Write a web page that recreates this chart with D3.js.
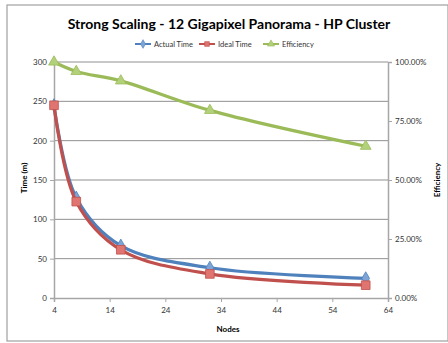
<!DOCTYPE html>
<html>
<head>
<meta charset="utf-8">
<script src="https://cdn.jsdelivr.net/npm/d3@7"></script>
<style>
  body { margin: 0; background: #fff; }
  svg { display: block; font-family: Lato, "Liberation Sans", sans-serif; }
</style>
</head>
<body>
<div id="chart"></div>
<script>
const width = 448, height = 343;

// data
const nodes = [4, 8, 16, 32, 60];
const actualTime = [245, 127.5, 66.5, 38.5, 25];
const idealTime = [245, 122.5, 61.3, 30.6, 16.3];
const efficiency = [1.0, 0.96, 0.92, 0.795, 0.643];

const xTicks = [4, 14, 24, 34, 44, 54, 64];
const yTicks = [0, 50, 100, 150, 200, 250, 300];
const y2Ticks = [0, 0.25, 0.5, 0.75, 1.0];

const svg = d3.select("#chart").append("svg")
    .attr("width", width)
    .attr("height", height);

// chart border
svg.append("rect")
    .attr("x", 7).attr("y", 5)
    .attr("width", width - 7).attr("height", 336)
    .attr("fill", "#fff")
    .attr("stroke", "#a0a0a0")
    .attr("stroke-width", 1.2);

const x = d3.scaleLinear().domain([4, 64]).range([54, 388]);
const y = d3.scaleLinear().domain([0, 300]).range([298, 62]);
const y2 = d3.scaleLinear().domain([0, 1]).range([298, 62]);

// gridlines
svg.append("g")
  .selectAll("line")
  .data(yTicks.filter(d => d > 0))
  .join("line")
    .attr("x1", x(4)).attr("x2", x(64))
    .attr("y1", d => y(d)).attr("y2", d => y(d))
    .attr("stroke", "#909090")
    .attr("stroke-width", 1);

// axes
const axisColor = "#a6a6a6";
const xAxis = svg.append("g")
    .attr("transform", `translate(0,${y(0)})`)
    .call(d3.axisBottom(x).tickValues(xTicks).tickSize(4).tickPadding(5));
const yAxis = svg.append("g")
    .attr("transform", `translate(${x(4)},0)`)
    .call(d3.axisLeft(y).tickValues(yTicks).tickSize(4).tickPadding(3));
const y2Axis = svg.append("g")
    .attr("transform", `translate(${x(64)},0)`)
    .call(d3.axisRight(y2).tickValues(y2Ticks).tickFormat(d => (d * 100).toFixed(2) + "%").tickSize(4).tickPadding(3));

[xAxis, yAxis, y2Axis].forEach(a => {
  a.select(".domain").attr("stroke", axisColor).attr("stroke-width", 1.5);
  a.selectAll(".tick line").attr("stroke", axisColor);
  a.selectAll(".tick text")
    .attr("fill", "#333")
    .style("font-size", "8px")
    .style("font-family", "Lato, 'Liberation Sans', sans-serif");
});

// lines
const series = [
  {name: "Actual Time", values: actualTime, scale: y, color: "#4f81bd", fill: "#7ea4d6", shape: d3.symbolDiamond, size: 50},
  {name: "Ideal Time", values: idealTime, scale: y, color: "#c0504d", fill: "#e07470", shape: d3.symbolSquare, size: 75},
  {name: "Efficiency", values: efficiency, scale: y2, color: "#9bbb59", fill: "#b3d17a", shape: d3.symbolTriangle, size: 50}
];

// draw efficiency first, then actual, then ideal on top
[series[2], series[0], series[1]].forEach(s => {
  const pts = nodes.map((n, i) => [x(n), s.scale(s.values[i])]);
  const line = d3.line().curve(d3.curveCatmullRom.alpha(0.5));
  svg.append("path")
      .attr("d", line(pts))
      .attr("fill", "none")
      .attr("stroke", s.color)
      .attr("stroke-width", 3.2);
  svg.append("g")
    .selectAll("path")
    .data(pts)
    .join("path")
      .attr("transform", d => `translate(${d[0]},${d[1]})`)
      .attr("d", d3.symbol().type(s.shape).size(s.size))
      .attr("fill", s.fill)
      .attr("stroke", s.color)
      .attr("stroke-width", 0.8);
});

// title
svg.append("text")
    .attr("x", 229).attr("y", 29)
    .attr("text-anchor", "middle")
    .style("font-size", "14px")
    .style("font-weight", "bold")
    .attr("fill", "#000")
    .text("Strong Scaling - 12 Gigapixel Panorama - HP Cluster");

// legend
const legendX = [135, 199, 263];
series.forEach((s, i) => {
  const g = svg.append("g").attr("transform", `translate(${legendX[i]},44)`);
  g.append("line")
      .attr("x1", 0).attr("x2", 16)
      .attr("stroke", s.color).attr("stroke-width", 2);
  g.append("path")
      .attr("transform", "translate(8,0)")
      .attr("d", d3.symbol().type(s.shape).size(22))
      .attr("fill", s.fill)
      .attr("stroke", s.color)
      .attr("stroke-width", 0.6);
  g.append("text")
      .attr("x", 19).attr("y", 3)
      .style("font-size", "7.5px")
      .attr("fill", "#333")
      .text(s.name);
});

// axis titles
svg.append("text")
    .attr("x", 228).attr("y", 332)
    .attr("text-anchor", "middle")
    .style("font-size", "8px")
    .style("font-weight", "bold")
    .text("Nodes");
svg.append("text")
    .attr("transform", "translate(27,178) rotate(-90)")
    .attr("text-anchor", "middle")
    .style("font-size", "8px")
    .style("font-weight", "bold")
    .text("Time (m)");
svg.append("text")
    .attr("transform", "translate(440,180) rotate(-90)")
    .attr("text-anchor", "middle")
    .style("font-size", "8px")
    .style("font-weight", "bold")
    .text("Efficiency");
</script>
</body>
</html>
